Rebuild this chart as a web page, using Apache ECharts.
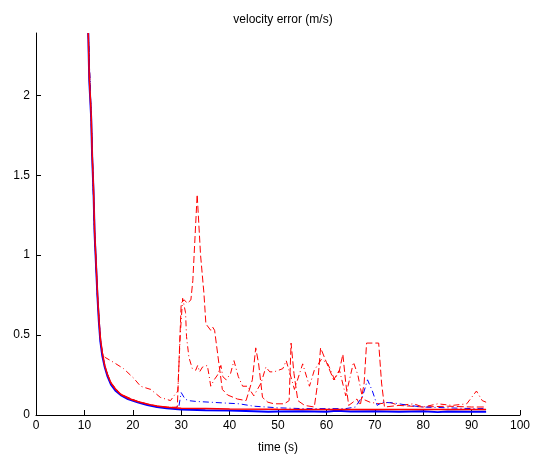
<!DOCTYPE html>
<html><head><meta charset="utf-8">
<script src="https://cdn.jsdelivr.net/npm/echarts@6/dist/echarts.min.js"></script>
<style>html,body{margin:0;padding:0;background:#fff}#c{width:536px;height:459px}</style>
</head><body><div id="c"></div>
<script>
// ---- data ----
const xTicks = [0,10,20,30,40,50,60,70,80,90,100];
const yTicks = [0,0.5,1,1.5,2];

const blueSolidT = [10.8,11.0,11.4,11.6,11.9,12.1,12.4,12.7,13.0,13.3,13.7,14.2,14.8,15.5,16.5,17.5,19,21,23,25,27,30,35,40,45,48,50,55,60,62,65,70,75,80,83,85,90,93];
const blueSolidV = [2.39,2.1,1.86,1.62,1.38,1.14,0.94,0.74,0.58,0.46,0.37,0.3,0.24,0.19,0.15,0.125,0.1,0.08,0.063,0.05,0.042,0.035,0.03,0.028,0.024,0.02,0.022,0.024,0.02,0.026,0.022,0.024,0.02,0.024,0.018,0.022,0.02,0.02];

const redSolidT = [10.8,11.0,11.4,11.6,11.9,12.1,12.4,12.7,13.0,13.3,13.7,14.2,14.8,15.5,16.5,17.5,19,21,23,25,27,30,35,40,50,60,70,80,93];
const redSolidV = [2.39,2.12,1.88,1.64,1.4,1.16,0.96,0.76,0.6,0.48,0.39,0.31,0.25,0.2,0.16,0.13,0.105,0.085,0.068,0.056,0.048,0.042,0.04,0.038,0.036,0.035,0.035,0.035,0.035];

const blueDashDotT = [10.8,11.4,12.1,12.7,13.3,14.2,15.5,17.5,21,25,28,29.5,30,30.8,31.5,33,36,39,42,45,50,55,60,64,66,67.5,68.5,69.5,70.5,71.5,74,77,80,85,90,93];
const blueDashDotV = [2.39,1.86,1.14,0.74,0.46,0.3,0.19,0.125,0.08,0.05,0.045,0.05,0.14,0.1,0.09,0.085,0.08,0.075,0.07,0.055,0.045,0.04,0.04,0.04,0.05,0.12,0.22,0.15,0.06,0.08,0.075,0.06,0.05,0.045,0.04,0.04];

const redDashT = [10.8,11.4,12.1,12.7,13.3,14.2,15.5,17.5,21,25,28,29.2,30,30.6,31.3,32,32.4,33.3,34.0,34.7,35.1,36.1,36.5,36.9,37.8,38.5,39.6,41.6,43.4,44.7,45.4,46,46.8,47.9,49.2,51.3,52.3,52.7,53.3,54.1,55.5,57.5,58.2,58.8,60,61.5,62.7,63.4,64,64.6,65.5,66.3,67,67.8,68.3,70.8,71.4,72,75,80,85,90,93];
const redDashV = [2.39,1.87,1.15,0.75,0.47,0.3,0.2,0.13,0.085,0.055,0.048,0.05,0.70,0.72,0.70,0.72,0.84,1.38,1.0,0.76,0.57,0.53,0.55,0.53,0.32,0.16,0.125,0.10,0.09,0.22,0.42,0.32,0.11,0.08,0.07,0.07,0.09,0.45,0.26,0.09,0.06,0.05,0.2,0.42,0.33,0.22,0.28,0.38,0.2,0.06,0.08,0.1,0.06,0.2,0.45,0.45,0.2,0.05,0.06,0.05,0.055,0.05,0.05];

const redDashDotT = [10.8,11.4,12.1,12.7,13.3,13.7,14.3,16,18.1,20.2,21.6,23.7,25.7,27.8,28.5,29.3,29.8,30.3,30.9,31.1,31.6,32.3,33,33.4,33.8,34.4,35.4,35.8,36.1,36.8,37.5,38.2,38.6,39.3,40.2,40.9,41.8,42.7,43.7,45,46.5,47.5,48.3,49.2,51,51.7,53.4,55.1,56.5,57.5,59,60.3,61.7,62.7,64,65.6,66.5,67.5,69,71,73,75,78,80,83,86,89,91,92.2,93];
const redDashDotV = [2.39,1.86,1.15,0.75,0.47,0.38,0.36,0.33,0.29,0.23,0.18,0.16,0.11,0.09,0.12,0.15,0.5,0.73,0.64,0.49,0.36,0.29,0.28,0.31,0.27,0.30,0.31,0.24,0.18,0.22,0.25,0.31,0.24,0.22,0.26,0.34,0.24,0.18,0.18,0.12,0.2,0.3,0.27,0.27,0.29,0.34,0.16,0.32,0.18,0.28,0.35,0.32,0.22,0.28,0.12,0.33,0.25,0.1,0.08,0.07,0.08,0.06,0.07,0.05,0.07,0.06,0.07,0.15,0.09,0.08];

function zip(t, v){ return t.map((x,i)=>[x, v[i]]); }

const chart = echarts.init(document.getElementById('c'), null, {renderer:'canvas'});
const font = 'Liberation Sans, Arial, Helvetica, sans-serif';
function mk(name, t, v, color, type, width){
  return {name, type:'line', data: zip(t,v), showSymbol:false, symbol:'none',
    lineStyle:{color, width, type}, itemStyle:{color}, clip:true, animation:false, z:2};
}
chart.setOption({
  animation:false,
  backgroundColor:'#fff',
  title:{text:'velocity error (m/s)', left:278, top:9, textAlign:'center',
    textStyle:{fontFamily:font, fontSize:12, fontWeight:'normal', color:'#000'}},
  grid:{left:36, right:16, top:33, bottom:44, containLabel:false},
  xAxis:{type:'value', min:0, max:100, interval:10,
    name:'time (s)', nameLocation:'middle', nameGap:27,
    nameTextStyle:{fontFamily:font, fontSize:12, color:'#000'},
    axisLine:{show:true, lineStyle:{color:'#000', width:1}},
    axisTick:{show:true, inside:true, length:5, lineStyle:{color:'#000'}},
    axisLabel:{fontFamily:font, fontSize:12, color:'#000', margin:5,
      formatter: v => xTicks.includes(v) ? String(v) : ''},
    splitLine:{show:false}},
  yAxis:{type:'value', min:0, max:2.39, interval:0.5,
    axisLine:{show:true, lineStyle:{color:'#000', width:1}},
    axisTick:{show:true, inside:true, length:5, lineStyle:{color:'#000'}},
    axisLabel:{fontFamily:font, fontSize:12, color:'#000', margin:6, showMaxLabel:false,
      formatter: v => yTicks.includes(v) ? String(v) : ''},
    splitLine:{show:false}},
  series:[
    mk('redDashDot', redDashDotT, redDashDotV, '#ff0000', [6,3,1,3], 1),
    mk('redDash', redDashT, redDashV, '#ff0000', [7,3], 1),
    mk('blueDashDot', blueDashDotT, blueDashDotV, '#0000ff', [6,3,1,3], 1),
    mk('blueSolid', blueSolidT, blueSolidV, '#0000ff', 'solid', 2),
    mk('redSolid', redSolidT, redSolidV, '#ff0000', 'solid', 1.5)
  ]
});
</script></body></html>
